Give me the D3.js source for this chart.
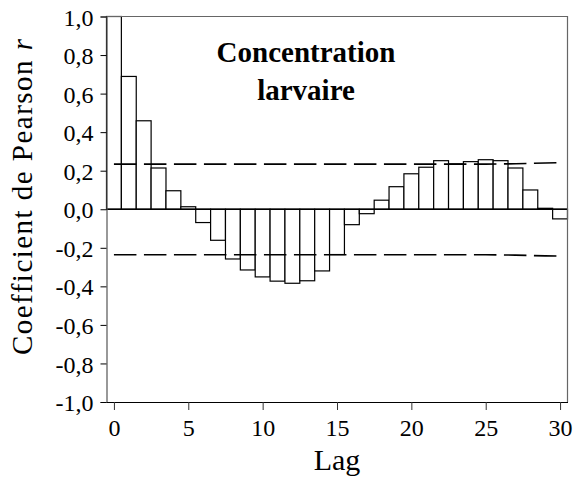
<!DOCTYPE html>
<html>
<head>
<meta charset="utf-8">
<script src="https://cdn.jsdelivr.net/npm/d3@7"></script>
<style>
  html, body { margin: 0; padding: 0; background: #fff; }
  svg { display: block; }
  text { font-family: "Liberation Serif", Tinos, "Times New Roman", Times, "DejaVu Serif", serif; fill: #000; }
</style>
</head>
<body>
<svg id="chart" width="574" height="480"></svg>
<script>
// Cross-correlation of larval concentration by lag
const lags = d3.range(0, 31);
const pearsonR = [
  1.000, 0.689, 0.459, 0.214, 0.096, 0.013, -0.069, -0.161, -0.258, -0.315,
  -0.351, -0.373, -0.384, -0.371, -0.320, -0.235, -0.080, -0.023, 0.047, 0.117,
  0.184, 0.218, 0.252, 0.235, 0.247, 0.257, 0.252, 0.214, 0.100, 0.005,
  -0.050
];
// Significance bounds at each lag
const upperBound = [
  0.234, 0.234, 0.234, 0.234, 0.234, 0.234, 0.234, 0.234, 0.234, 0.234,
  0.234, 0.234, 0.234, 0.234, 0.234, 0.234, 0.234, 0.234, 0.234, 0.234,
  0.234, 0.234, 0.234, 0.234, 0.234, 0.234, 0.235, 0.236, 0.238, 0.240,
  0.242
];
const lowerBound = [
  -0.236, -0.236, -0.236, -0.236, -0.236, -0.236, -0.236, -0.236, -0.236, -0.236,
  -0.236, -0.236, -0.236, -0.236, -0.236, -0.236, -0.236, -0.236, -0.236, -0.236,
  -0.236, -0.236, -0.236, -0.236, -0.236, -0.236, -0.237, -0.238, -0.240, -0.242,
  -0.243
];
const xTicks = [0, 5, 10, 15, 20, 25, 30];
const yTicks = [1.0, 0.8, 0.6, 0.4, 0.2, 0.0, -0.2, -0.4, -0.6, -0.8, -1.0];
const titleLines = ["Concentration", "larvaire"];

const serif = "'Liberation Serif', Tinos, 'Times New Roman', Times, 'DejaVu Serif', serif";

const svg = d3.select("#chart");
const plotLeft = 106.5, plotRight = 567.5, plotTop = 16.5, plotBottom = 402;

const x = d3.scaleLinear().domain([-0.5, 30.5]).range([plotLeft, plotRight]);
const y = d3.scaleLinear().domain([-1, 1]).range([plotBottom, plotTop]);
const band = x(1) - x(0);

const fmt = v => d3.format(".1f")(v).replace(".", ",").replace("\u2212", "-");

// Bars
svg.append("g")
  .selectAll("rect")
  .data(lags)
  .join("rect")
  .attr("x", d => x(d - 0.5))
  .attr("width", band)
  .attr("y", d => y(Math.max(0, pearsonR[d])))
  .attr("height", d => Math.abs(y(pearsonR[d]) - y(0)))
  .attr("fill", "#fff")
  .attr("stroke", "#000")
  .attr("stroke-width", 1.2);

// Zero line
svg.append("line")
  .attr("x1", plotLeft).attr("x2", plotRight)
  .attr("y1", y(0)).attr("y2", y(0))
  .attr("stroke", "#000").attr("stroke-width", 1.4);

// Dashed significance bounds
const boundLine = arr => d3.line()
  .x(d => x(d))
  .y(d => y(arr[d]))(lags);
[upperBound, lowerBound].forEach(arr => {
  svg.append("path")
    .attr("d", boundLine(arr))
    .attr("fill", "none")
    .attr("stroke", "#000")
    .attr("stroke-width", 1.6)
    .attr("stroke-dasharray", "22.5,7.5");
});

// Frame (top and right)
svg.append("path")
  .attr("d", `M${plotLeft},${plotTop}H${plotRight}V${plotBottom}`)
  .attr("fill", "none")
  .attr("stroke", "#666")
  .attr("stroke-width", 1.2);

// Y axis
const yAxis = d3.axisLeft(y).tickValues(yTicks).tickSize(6).tickPadding(7).tickFormat(fmt);
const gy = svg.append("g").attr("transform", `translate(${plotLeft},0)`).call(yAxis);
gy.attr("font-family", serif).attr("font-size", 24);
gy.select(".domain").attr("stroke", "#555").attr("stroke-width", 1.2);
gy.selectAll(".tick line").attr("stroke", "#000");
gy.selectAll(".tick text")
  .style("font-family", serif)
  .style("font-size", "24px")
  .attr("dy", "0.36em");

// X axis
const xAxis = d3.axisBottom(x).tickValues(xTicks).tickSize(8).tickSizeOuter(0).tickPadding(9);
const gx = svg.append("g").attr("transform", `translate(0,${plotBottom})`).call(xAxis);
gx.attr("font-family", serif).attr("font-size", 24);
gx.select(".domain").attr("stroke", "#000").attr("stroke-width", 1.2);
gx.selectAll(".tick line").attr("stroke", "#333");
gx.selectAll(".tick text")
  .style("font-family", serif)
  .style("font-size", "24px")
  .attr("dy", "0.71em");

// Axis titles
svg.append("text")
  .attr("x", (plotLeft + plotRight) / 2)
  .attr("y", 470)
  .attr("text-anchor", "middle")
  .style("font-family", serif)
  .style("font-size", "30px")
  .text("Lag");

const yt = svg.append("text")
  .attr("transform", `translate(32,197) rotate(-90)`)
  .attr("text-anchor", "middle")
  .attr("textLength", 316)
  .attr("lengthAdjust", "spacing")
  .style("font-family", serif)
  .style("font-size", "29px");
yt.append("tspan").text("Coefficient de Pearson ");
yt.append("tspan").style("font-style", "italic").text("r");

// Chart title
svg.append("g")
  .selectAll("text")
  .data(titleLines)
  .join("text")
  .attr("x", 306)
  .attr("y", (d, i) => 62 + i * 38)
  .attr("text-anchor", "middle")
  .style("font-family", serif)
  .style("font-size", "29px")
  .style("font-weight", "bold")
  .text(d => d);
</script>
</body>
</html>
